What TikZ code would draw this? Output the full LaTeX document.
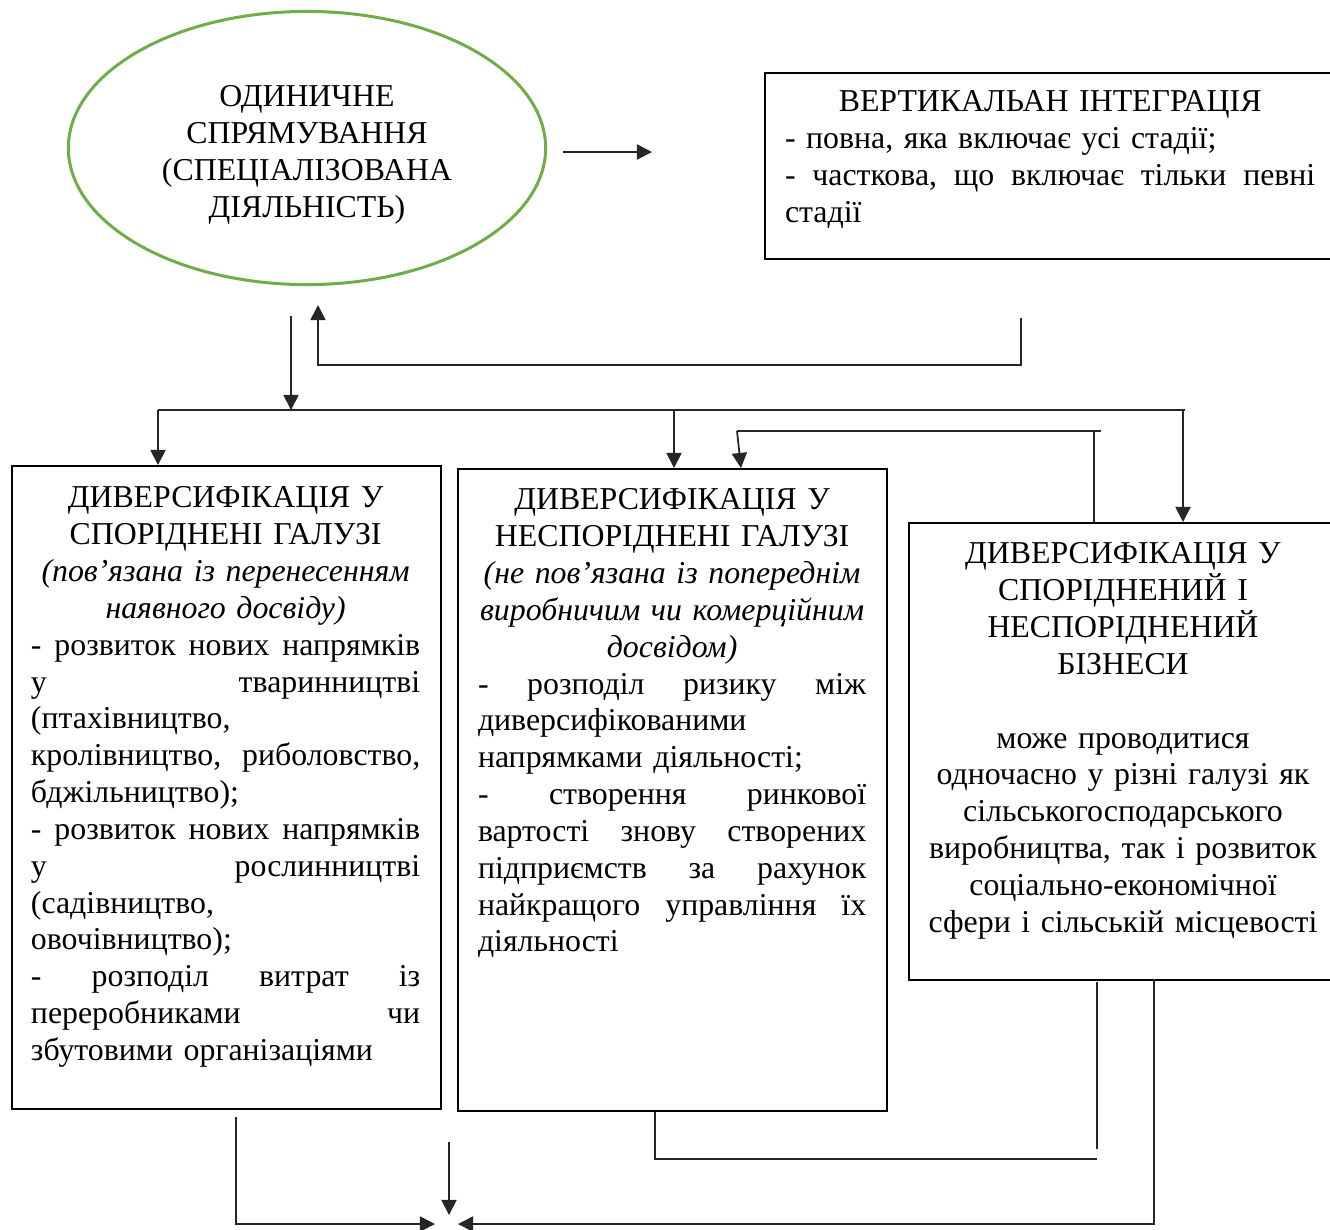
\documentclass[tikz,border=0pt]{standalone}
\usepackage{fontspec}
\setmainfont{Liberation Serif}
\usetikzlibrary{arrows.meta,shapes.geometric}
\definecolor{elgreen}{RGB}{112,173,71}
\newcommand{\ctrline}[1]{\makebox[\hsize]{#1}}
\newcommand{\jstline}[1]{\makebox[\hsize][l]{#1}}
\newcommand{\diagfont}{\fontsize{9.05}{10.47}\selectfont\setlength{\lineskiplimit}{-20pt}}
\begin{document}
\begin{tikzpicture}[x=0.01cm,y=-0.01cm,
  box/.style={draw, line width=0.45pt, inner sep=0, anchor=north west},
  conn/.style={line width=0.5pt, black!85},
  arr/.style={conn, -{Triangle[length=4.3pt,width=4.3pt]}},
  txt/.style={inner sep=0, outer sep=0, font=\diagfont},
]
\useasboundingbox (0,0) rectangle (1330,1229);

% ellipse
\node[draw=elgreen, line width=0.85pt, ellipse, inner sep=0,
      minimum width=4.77cm, minimum height=2.73cm] (single) at (307,148) {};
\node[txt, anchor=north, align=center] (singletxt) at (307,81.2)
  {\strut ОДИНИЧНЕ\\ СПРЯМУВАННЯ\\ (СПЕЦІАЛІЗОВАНА\\ ДІЯЛЬНІСТЬ)};

% vertical integration box
\node[box, minimum width=5.76cm, minimum height=1.86cm] (vert) at (764,72) {};
\node[txt, anchor=north west, text width=5.30cm, align=left] (verttxt) at (785,86.2)
  {\strut\ctrline{ВЕРТИКАЛЬАН ІНТЕГРАЦІЯ}\\
   - повна, яка включає усі стадії;\\
   \jstline{-\hfill часткова,\hfill що\hfill включає\hfill тільки\hfill певні}\\
   стадії};

% box 1
\node[box, minimum width=4.29cm, minimum height=6.43cm] (b1) at (11,465) {};
\node[txt, anchor=north west, text width=3.89cm, align=left] (b1txt) at (31,482.2)
  {\strut\ctrline{ДИВЕРСИФІКАЦІЯ У}\\
   \ctrline{СПОРІДНЕНІ ГАЛУЗІ}\\
   \ctrline{\textit{(пов’язана із перенесенням}}\\
   \ctrline{\textit{наявного досвіду)}}\\
   \jstline{-\hfill розвиток\hfill нових\hfill напрямків}\\
   \jstline{у\hfill тваринництві}\\
   (птахівництво,\\
   \jstline{кролівництво,\hfill риболовство,}\\
   бджільництво);\\
   \jstline{-\hfill розвиток\hfill нових\hfill напрямків}\\
   \jstline{у\hfill рослинництві}\\
   (садівництво,\\
   овочівництво);\\
   \jstline{-\hfill розподіл\hfill витрат\hfill із}\\
   \jstline{переробниками\hfill чи}\\
   збутовими організаціями};

% box 2
\node[box, minimum width=4.29cm, minimum height=6.42cm] (b2) at (457,468) {};
\node[txt, anchor=north west, text width=3.88cm, align=left] (b2txt) at (478,484.2)
  {\strut\ctrline{ДИВЕРСИФІКАЦІЯ У}\\
   \ctrline{НЕСПОРІДНЕНІ ГАЛУЗІ}\\
   \ctrline{\textit{(не пов’язана із попереднім}}\\
   \ctrline{\textit{виробничим чи комерційним}}\\
   \ctrline{\textit{досвідом)}}\\
   \jstline{-\hfill розподіл\hfill ризику\hfill між}\\
   диверсифікованими\\
   напрямками діяльності;\\
   \jstline{-\hfill створення\hfill ринкової}\\
   \jstline{вартості\hfill знову\hfill створених}\\
   \jstline{підприємств\hfill за\hfill рахунок}\\
   \jstline{найкращого\hfill управління\hfill їх}\\
   діяльності};

% box 3
\node[box, minimum width=4.32cm, minimum height=4.57cm] (b3) at (908,522) {};
\node[txt, anchor=north, text width=4.0cm, align=center] (b3txt) at (1123,538.2)
  {\strut ДИВЕРСИФІКАЦІЯ У\\
   СПОРІДНЕНИЙ І\\
   НЕСПОРІДНЕНИЙ\\
   БІЗНЕСИ\\[10.47pt]
   може проводитися\\
   одночасно у різні галузі як\\
   сільськогосподарського\\
   виробництва, так і розвиток\\
   соціально-економічної\\
   сфери і сільській місцевості};

% connector coordinates
\coordinate (p1) at (563,152);
\coordinate (p2) at (652,152);
\coordinate (q1) at (1021,318);
\coordinate (q2) at (1021,365);
\coordinate (q3) at (318,365);
\coordinate (q4) at (318,305);
\coordinate (r1) at (291,316);
\coordinate (r2) at (291,410);
\coordinate (h1) at (158,410);
\coordinate (h2) at (1185,410);
\coordinate (s1) at (158,465);
\coordinate (m1) at (674,410);
\coordinate (m2) at (674,468);
\coordinate (k1) at (1183,410);
\coordinate (k2) at (1183,522);
\coordinate (g1) at (1094,522);
\coordinate (g2) at (1094,431);
\coordinate (g3) at (1101,431);
\coordinate (g4) at (737,431);
\coordinate (g5) at (741,468);
\coordinate (d1) at (236,1117);
\coordinate (d2) at (236,1224);
\coordinate (d3) at (435,1224);
\coordinate (e1) at (449,1142);
\coordinate (e2) at (449,1215);
\coordinate (f1) at (1154,979);
\coordinate (f2) at (1154,1224);
\coordinate (f3) at (458,1224);
\coordinate (n1) at (655,1112);
\coordinate (n2) at (655,1159);
\coordinate (n3) at (1097,1159);
\coordinate (n4) at (1097,1149);
\coordinate (n5) at (1097,982);

\draw[arr] (p1) -- (p2);
\draw[arr] (q1) -- (q2) -- (q3) -- (q4);
\draw[arr] (r1) -- (r2);
\draw[conn] (h1) -- (h2);
\draw[arr] (h1) -- (s1);
\draw[arr] (m1) -- (m2);
\draw[arr] (k1) -- (k2);
\draw[conn] (g1) -- (g2);
\draw[conn] (g3) -- (g4);
\draw[arr] (g4) -- (g5);
\draw[arr] (d1) -- (d2) -- (d3);
\draw[arr] (e1) -- (e2);
\draw[arr] (f1) -- (f2) -- (f3);
\draw[conn] (n1) -- (n2) -- (n3);
\draw[conn] (n4) -- (n5);
\end{tikzpicture}
\end{document}
